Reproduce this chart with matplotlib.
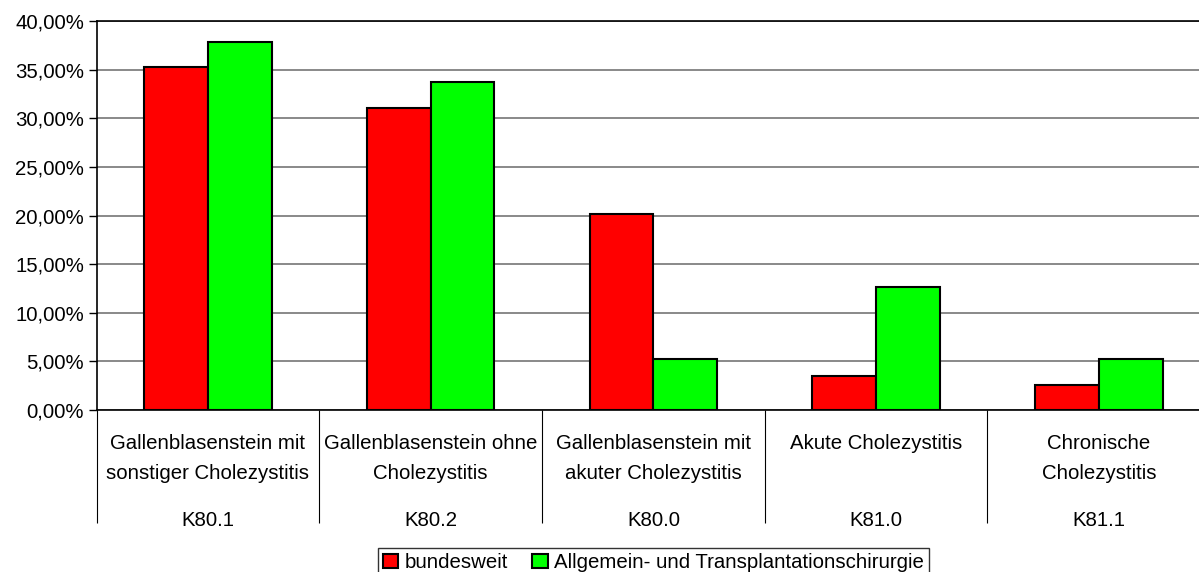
import numpy as np
import matplotlib.pyplot as plt
from matplotlib.ticker import FuncFormatter
import matplotlib.transforms as mtransforms

plt.rcParams['font.family'] = ['Liberation Sans', 'DejaVu Sans']

labels = ["Gallenblasenstein mit\nsonstiger Cholezystitis",
          "Gallenblasenstein ohne\nCholezystitis",
          "Gallenblasenstein mit\nakuter Cholezystitis",
          "Akute Cholezystitis",
          "Chronische\nCholezystitis"]
codes = ["K80.1", "K80.2", "K80.0", "K81.0", "K81.1"]
bundesweit = [35.27, 31.05, 20.17, 3.50, 2.57]
allgemein = [37.87, 33.75, 5.25, 12.66, 5.25]
series_names = ["bundesweit", "Allgemein- und Transplantationschirurgie"]

fs = 14.7

fig = plt.figure(figsize=(11.99, 5.72), dpi=100)
ax = fig.add_axes([0.0806, 0.2832, 0.9287, 0.6796])

x = np.arange(len(codes))
w = 0.2865
ax.bar(x - w/2, bundesweit, w, color="#ff0000", edgecolor="black", linewidth=1.5,
       label=series_names[0], zorder=3)
ax.bar(x + w/2, allgemein, w, color="#00ff00", edgecolor="black", linewidth=1.5,
       label=series_names[1], zorder=3)

ax.set_xlim(-0.5, len(codes) - 0.5)
ax.set_ylim(0, 40)
ax.set_yticks(np.arange(0, 41, 5))
ax.yaxis.set_major_formatter(FuncFormatter(lambda v, p: ("%.2f%%" % v).replace(".", ",")))
ax.tick_params(axis="y", labelsize=fs, length=6, width=1, pad=3)
ax.grid(axis="y", color="#808080", linewidth=1.3, zorder=0)

# category separators below the axis
ax.set_xticks(np.arange(-0.5, len(codes), 1.0))
ax.set_xticklabels([])
ax.tick_params(axis="x", length=81, width=0.8, color="black")

ax.spines["right"].set_visible(False)
for s in ["top", "left", "bottom"]:
    ax.spines[s].set_linewidth(1.2)

trans = mtransforms.blended_transform_factory(ax.transData, fig.transFigure)
for i in range(len(codes)):
    ax.text(x[i], 1 - 434/572, labels[i], transform=trans, ha="center", va="top",
            fontsize=fs, linespacing=1.76, clip_on=False)
    ax.text(x[i], 1 - 520/572, codes[i], transform=trans, ha="center", va="center",
            fontsize=fs, clip_on=False)

leg = ax.legend(loc="upper center", bbox_to_anchor=(0.5, -0.355), ncol=2, frameon=True,
                fancybox=False, edgecolor="black", fontsize=fs, handlelength=0.75,
                handleheight=0.75, handletextpad=0.3, columnspacing=1.2, borderpad=0.25,
                borderaxespad=0)
leg.get_frame().set_linewidth(1.0)
for h in leg.legend_handles:
    h.set_linewidth(1.5)

fig.savefig("out.png", dpi=100)
